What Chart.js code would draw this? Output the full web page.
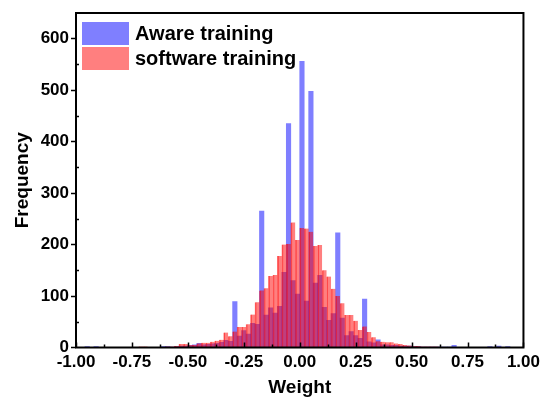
<!DOCTYPE html>
<html>
<head>
<meta charset="utf-8">
<script src="https://cdn.jsdelivr.net/npm/chart.js@4/dist/chart.umd.min.js"></script>
<style>
html,body{margin:0;padding:0;background:#fff;}
#wrap{width:545px;height:400px;}
canvas{display:block;}
</style>
</head>
<body>
<div id="wrap"><canvas id="c" width="545" height="400"></canvas></div>
<script>
// Histogram bin centres (bin width 0.02 over [-1, 1])
const weightBins = [
 -0.99,-0.97,-0.95,-0.93,-0.91,-0.89,-0.87,-0.85,-0.83,-0.81,
 -0.79,-0.77,-0.75,-0.73,-0.71,-0.69,-0.67,-0.65,-0.63,-0.61,
 -0.59,-0.57,-0.55,-0.53,-0.51,-0.49,-0.47,-0.45,-0.43,-0.41,
 -0.39,-0.37,-0.35,-0.33,-0.31,-0.29,-0.27,-0.25,-0.23,-0.21,
 -0.19,-0.17,-0.15,-0.13,-0.11,-0.09,-0.07,-0.05,-0.03,-0.01,
  0.01, 0.03, 0.05, 0.07, 0.09, 0.11, 0.13, 0.15, 0.17, 0.19,
  0.21, 0.23, 0.25, 0.27, 0.29, 0.31, 0.33, 0.35, 0.37, 0.39,
  0.41, 0.43, 0.45, 0.47, 0.49, 0.51, 0.53, 0.55, 0.57, 0.59,
  0.61, 0.63, 0.65, 0.67, 0.69, 0.71, 0.73, 0.75, 0.77, 0.79,
  0.81, 0.83, 0.85, 0.87, 0.89, 0.91, 0.93, 0.95, 0.97, 0.99
];

const awareCounts = [
  0,0,2,0,2,0,0,0,0,0,
  0,0,0,0,0,0,0,0,0,2,
  2,1,2,3,3,4,5,8,5,6,
  7,8,10,14,12,89,22,33,26,47,
  45,265,63,77,67,80,146,435,130,104,
  556,90,498,125,140,78,53,66,223,57,
  23,31,23,18,94,11,9,15,5,5,
  4,4,3,3,3,2,2,1,1,1,
  1,1,1,1,4,0,0,0,0,0,
  0,0,2,0,3,0,2,0,0,0
];

const softwareCounts = [
  0,0,0,0,1,0,0,0,0,0,
  0,0,0,0,2,2,1,1,1,1,
  2,2,3,7,7,5,5,8,9,9,
  11,13,15,29,22,31,40,40,45,64,
  88,111,115,139,141,178,200,201,243,209,
  232,231,225,197,199,150,138,114,100,86,
  63,63,52,34,41,30,20,12,11,10,
  10,8,7,5,4,3,3,2,2,2,
  2,1,1,1,1,1,0,0,0,0,
  0,0,0,0,0,0,0,0,0,0
];

const seriesLabels = ['Aware training', 'software training'];
const FONT = "'Liberation Sans', Arial, sans-serif";

const framePlugin = {
  id: 'frame',
  afterDatasetsDraw(chart) {
    const {ctx, chartArea: a, scales: {x, y}} = chart;
    ctx.save();
    ctx.strokeStyle = '#000';
    ctx.lineWidth = 2;
    ctx.strokeRect(a.left, a.top, a.right - a.left, a.bottom - a.top);
    ctx.lineWidth = 1.5;
    // x ticks (inward)
    const xt = x.ticks.map(t => t.value);
    ctx.beginPath();
    xt.forEach(v => {
      const p = Math.round(x.getPixelForValue(v)) + 0.5;
      ctx.moveTo(p, a.bottom); ctx.lineTo(p, a.bottom - 5);
    });
    for (let i = 0; i < xt.length - 1; i++) {
      const p = Math.round(x.getPixelForValue((xt[i] + xt[i + 1]) / 2)) + 0.5;
      ctx.moveTo(p, a.bottom); ctx.lineTo(p, a.bottom - 3);
    }
    // y minor ticks (inward)
    const yt = y.ticks.map(t => t.value);
    for (let i = 0; i < yt.length - 1; i++) {
      const p = Math.round(y.getPixelForValue((yt[i] + yt[i + 1]) / 2)) + 0.5;
      ctx.moveTo(a.left, p); ctx.lineTo(a.left + 3, p);
    }
    ctx.stroke();
    ctx.restore();
  },
  afterDraw(chart) {
    const {ctx, chartArea: a} = chart;
    ctx.save();
    ctx.font = 'bold 20px ' + FONT;
    ctx.textBaseline = 'middle';
    ctx.textAlign = 'left';
    chart.data.datasets.forEach((ds, i) => {
      const bx = a.left + 6, by = a.top + 9 + i * 25;
      ctx.fillStyle = ds.backgroundColor;
      ctx.fillRect(bx, by, 47, 23);
      ctx.fillStyle = '#000';
      ctx.fillText(ds.label, bx + 53, by + 12.5);
    });
    ctx.restore();
  }
};

new Chart(document.getElementById('c'), {
  type: 'bar',
  data: {
    datasets: [
      {
        label: seriesLabels[0],
        data: weightBins.map((w, i) => ({x: w, y: awareCounts[i]})),
        backgroundColor: 'rgba(0,0,255,0.5)',
        borderWidth: 0,
        order: 1
      },
      {
        label: seriesLabels[1],
        data: weightBins.map((w, i) => ({x: w, y: softwareCounts[i]})),
        backgroundColor: 'rgba(255,0,0,0.5)',
        borderColor: 'rgba(255,0,0,0.6)',
        borderWidth: {left: 1, right: 0, top: 0, bottom: 0},
        order: 0
      }
    ]
  },
  options: {
    responsive: false,
    animation: false,
    devicePixelRatio: 1,
    grouped: false,
    barPercentage: 1,
    categoryPercentage: 1,
    layout: {padding: {left: 0, right: 20, top: 13, bottom: 0}},
    plugins: {legend: {display: false}, tooltip: {enabled: false}},
    scales: {
      x: {
        type: 'linear',
        min: -1, max: 1,
        offset: false,
        grid: {display: true, drawOnChartArea: false, drawTicks: false, offset: false},
        border: {display: false},
        ticks: {
          stepSize: 0.25, autoSkip: false, maxRotation: 0, padding: 5,
          color: '#000', font: {family: FONT, size: 17, weight: 'bold'},
          callback: v => Number(v).toFixed(2)
        },
        title: {display: true, text: 'Weight', color: '#000',
                font: {family: FONT, size: 19, weight: 'bold'}, padding: {top: 0, bottom: 1}},
        afterFit(s) { s.height = 52.5; }
      },
      y: {
        min: 0, max: 650,
        grid: {display: true, drawOnChartArea: false, drawTicks: true, tickLength: 5,
               tickColor: '#000', tickWidth: 1.5},
        border: {display: false},
        ticks: {
          stepSize: 100, includeBounds: false, padding: 2,
          color: '#000', font: {family: FONT, size: 17, weight: 'bold'}
        },
        title: {display: true, text: 'Frequency', color: '#000',
                font: {family: FONT, size: 19, weight: 'bold'}, padding: {top: 11, bottom: 0}},
        afterFit(s) { s.width = 76; }
      }
    }
  },
  plugins: [framePlugin]
});
</script>
</body>
</html>
